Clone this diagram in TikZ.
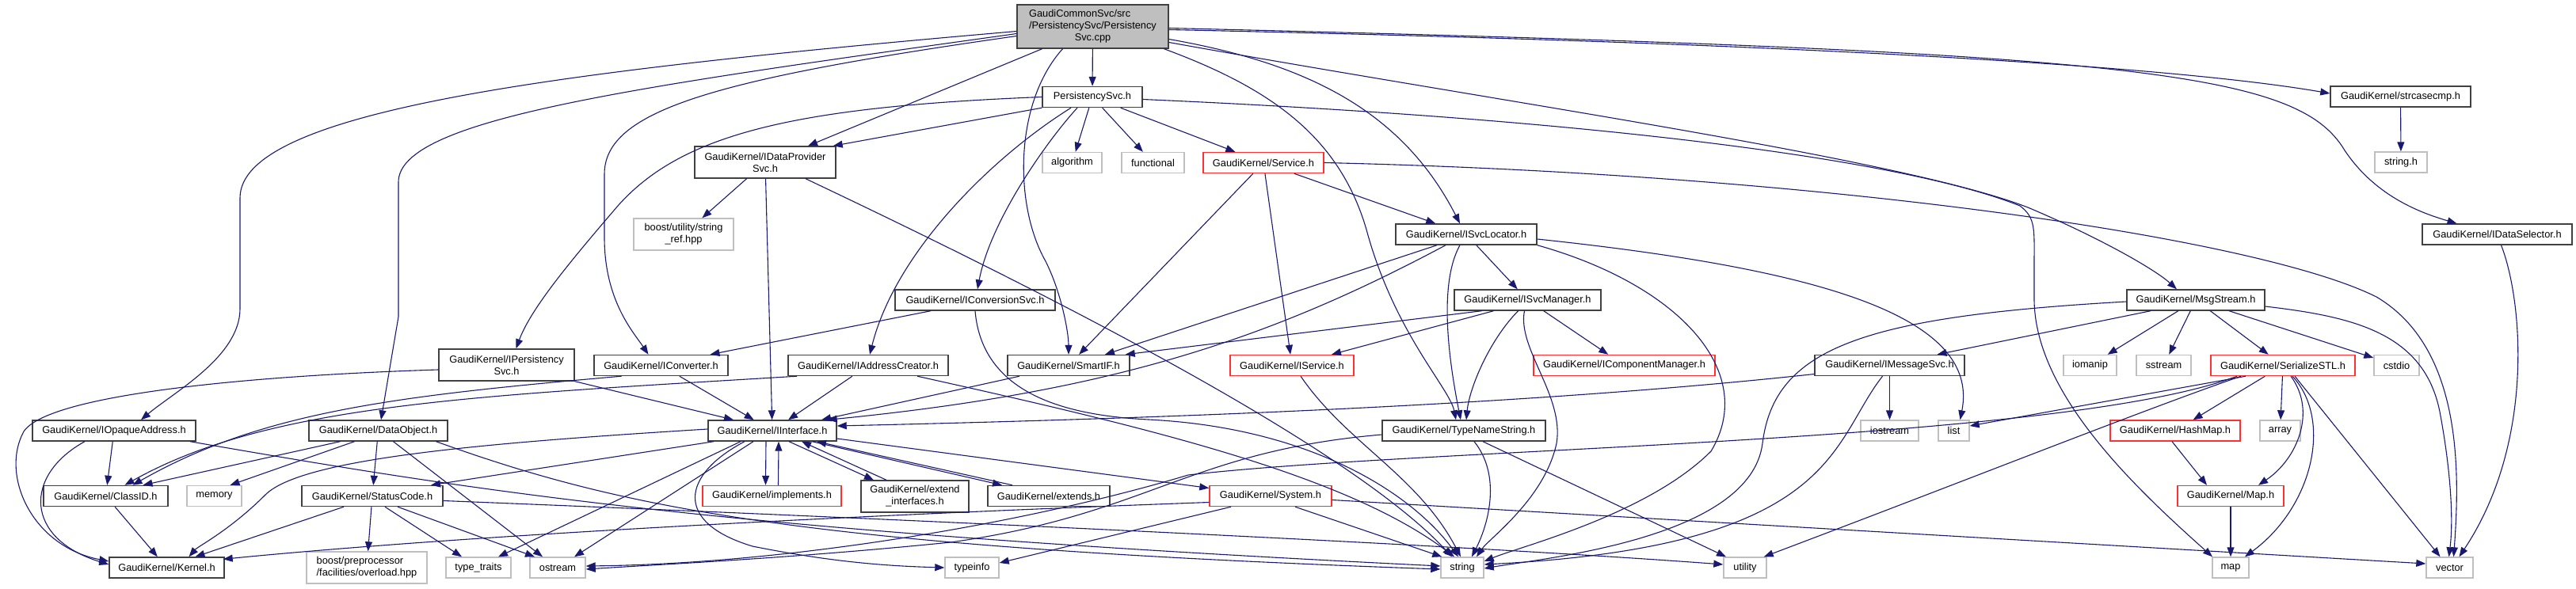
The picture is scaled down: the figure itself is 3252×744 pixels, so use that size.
\documentclass[tikz,border=0pt]{standalone}
\usepackage{fontspec}
\setmainfont{Liberation Sans}
\usetikzlibrary{arrows.meta}
\definecolor{edgeblue}{HTML}{191970}
\definecolor{sysgray}{HTML}{BFBFBF}
\definecolor{truncred}{HTML}{FF3030}
\tikzset{
  file/.style={draw=black!75, line width=1.4pt, fill=white, inner sep=0pt,
    minimum height=26pt, align=center, font=\fontsize{12.8}{15}\selectfont},
  sysfile/.style={file, draw=sysgray},
  truncfile/.style={file, draw=truncred},
  mainfile/.style={file, fill=sysgray},
  incl/.style={->, draw=edgeblue, line width=1.1pt},
}

\begin{document}
\begin{tikzpicture}[x=1pt, y=-1pt, >={Triangle[length=12pt,width=9pt]}]
\useasboundingbox (0,0) rectangle (3252,744);

% files, row by row
\node[mainfile, minimum width=191pt, minimum height=55pt] at (1379.5,33.5) (cpp) {\begin{tabular}{@{}l@{}}GaudiCommonSvc/src\\/PersistencySvc/Persistency\\\multicolumn{1}{@{}c@{}}{Svc.cpp}\end{tabular}};

\node[file, minimum width=126pt] at (1379,122.5) (psvcH) {PersistencySvc.h};
\node[file, minimum width=177pt] at (3030.5,122) (strcasecmp) {GaudiKernel/strcasecmp.h};

\node[file, minimum width=178pt, minimum height=40pt] at (966,205) (idpSvc) {GaudiKernel/IDataProvider\\Svc.h};
\node[sysfile, minimum width=75pt] at (1353.5,205.5) (algo) {algorithm};
\node[sysfile, minimum width=79pt] at (1455.5,205.5) (functional) {functional};
\node[truncfile, minimum width=152pt] at (1595,205.5) (service) {GaudiKernel/Service.h};
\node[sysfile, minimum width=66pt] at (3031,205) (stringH) {string.h};

\node[sysfile, minimum width=126pt, minimum height=40pt] at (863,296) (strRef) {boost/utility/string\\\_ref.hpp};
\node[file, minimum width=178pt] at (1851,296) (isvcLoc) {GaudiKernel/ISvcLocator.h};
\node[file, minimum width=189pt] at (3152.5,296) (idataSel) {GaudiKernel/IDataSelector.h};

\node[file, minimum width=202pt] at (1231,379) (iconvSvc) {GaudiKernel/IConversionSvc.h};
\node[file, minimum width=185pt] at (1928.5,379) (isvcMgr) {GaudiKernel/ISvcManager.h};
\node[file, minimum width=174pt] at (2772,379) (msgStream) {GaudiKernel/MsgStream.h};

\node[file, minimum width=171pt, minimum height=40pt] at (639.5,461) (ipersist) {GaudiKernel/IPersistency\\Svc.h};
\node[file, minimum width=169pt] at (834.5,461.5) (iconverter) {GaudiKernel/IConverter.h};
\node[file, minimum width=202pt] at (1096,461.5) (iaddrCr) {GaudiKernel/IAddressCreator.h};
\node[file, minimum width=154pt] at (1349,461.5) (smartIF) {GaudiKernel/SmartIF.h};
\node[truncfile, minimum width=156pt] at (1631,461.5) (iservice) {GaudiKernel/IService.h};
\node[truncfile, minimum width=229pt] at (2050.5,461.5) (icompMgr) {GaudiKernel/IComponentManager.h};
\node[file, minimum width=189pt] at (2385.5,461.5) (imsgSvc) {GaudiKernel/IMessageSvc.h};
\node[sysfile, minimum width=67pt] at (2638.5,461.5) (iomanip) {iomanip};
\node[sysfile, minimum width=69pt] at (2731.5,461.5) (sstream) {sstream};
\node[truncfile, minimum width=182pt] at (2882,461.5) (serialSTL) {GaudiKernel/SerializeSTL.h};
\node[sysfile, minimum width=57pt] at (3025.5,461.5) (cstdio) {cstdio};

\node[file, minimum width=206pt] at (144,544) (iopaque) {GaudiKernel/IOpaqueAddress.h};
\node[file, minimum width=175pt] at (477.5,544) (dataObj) {GaudiKernel/DataObject.h};
\node[file, minimum width=162pt] at (975,544) (iiface) {GaudiKernel/IInterface.h};
\node[file, minimum width=206pt] at (1848,544) (typeName) {GaudiKernel/TypeNameString.h};
\node[sysfile, minimum width=73pt] at (2385.5,544) (iostream) {iostream};
\node[sysfile, minimum width=39pt] at (2466.5,544) (list) {list};
\node[truncfile, minimum width=164pt] at (2746,544) (hashMap) {GaudiKernel/HashMap.h};
\node[sysfile, minimum width=51pt] at (2878.5,544) (array) {array};

\node[file, minimum width=157pt] at (133.5,626.5) (classID) {GaudiKernel/ClassID.h};
\node[sysfile, minimum width=69pt] at (270.5,626.5) (memory) {memory};
\node[file, minimum width=178pt] at (470,626.5) (statusCode) {GaudiKernel/StatusCode.h};
\node[truncfile, minimum width=175pt] at (974.5,626.5) (implements) {GaudiKernel/implements.h};
\node[file, minimum width=136pt, minimum height=40pt] at (1155,627) (extIntf) {GaudiKernel/extend\\\_interfaces.h};
\node[file, minimum width=154pt] at (1324,626.5) (extends) {GaudiKernel/extends.h};
\node[truncfile, minimum width=154pt] at (1604,626.5) (system) {GaudiKernel/System.h};
\node[truncfile, minimum width=134pt] at (2816,626.5) (mapH) {GaudiKernel/Map.h};

\node[file, minimum width=145pt] at (210.5,717) (kernel) {GaudiKernel/Kernel.h};
\node[sysfile, minimum width=152pt, minimum height=40pt] at (463,717) (boostPP) {\begin{tabular}{@{}l@{}}boost/preprocessor\\/facilities/overload.hpp\end{tabular}};
\node[sysfile, minimum width=82pt] at (604,717) (typeTraits) {type\_traits};
\node[sysfile, minimum width=70pt] at (704,717) (ostream) {ostream};
\node[sysfile, minimum width=68pt] at (1227,717) (typeinfo) {typeinfo};
\node[sysfile, minimum width=54pt] at (1846,717) (string) {string};
\node[sysfile, minimum width=54pt] at (2203,717) (utility) {utility};
\node[sysfile, minimum width=46pt] at (2816,717) (map) {map};
\node[sysfile, minimum width=59pt] at (3092.5,717) (vector) {vector};

% includes of the source file
\draw[incl] (cpp) -- (psvcH);
\draw[incl] ([xshift=-64pt]cpp.south) -- ([xshift=54pt]idpSvc.north);
\draw[incl] ([yshift=-6pt]cpp.west) .. controls (700,90) and (303,140) .. (303,250) -- (303,390) .. controls (303,450) and (220,495) .. ([xshift=34pt]iopaque.north);
\draw[incl] ([yshift=-9pt]cpp.west) .. controls (800,110) and (503,150) .. (503,230) -- (503,400) -- ([xshift=3.5pt]dataObj.north);
\draw[incl] ([yshift=-12pt]cpp.west) .. controls (900,100) and (763,140) .. (763,220) -- (763,300) .. controls (763,380) and (800,420) .. ([xshift=-16pt]iconverter.north);
\draw[incl] ([xshift=-38pt]cpp.south) .. controls (1280,130) and (1280,260) .. (1320,330) .. controls (1340,370) and (1349,420) .. (smartIF.north);
\draw[incl] ([yshift=-4pt]cpp.east) .. controls (2300,55) and (2750,85) .. ([yshift=4pt]strcasecmp.west);
\draw[incl] ([yshift=-2pt]cpp.east) .. controls (2700,65) and (2900,90) .. (2960,190) .. controls (3000,250) and (3060,270) .. ([xshift=-51pt]idataSel.north);
\draw[incl] ([yshift=-16pt]cpp.east) .. controls (1650,80) and (1770,140) .. ([xshift=-8pt]isvcLoc.north);
\draw[incl] ([yshift=-20pt]cpp.east) .. controls (1900,130) and (2400,200) .. (2560,262) .. controls (2650,300) and (2720,340) .. ([xshift=-24pt]msgStream.north);
\draw[incl] ([xshift=90pt]cpp.south) .. controls (1600,110) and (1690,170) .. (1725,290) .. controls (1760,420) and (1830,490) .. ([xshift=-10pt]typeName.north);

% PersistencySvc.h
\draw[incl] (psvcH) -- (algo);
\draw[incl] (psvcH) -- (functional);
\draw[incl] (psvcH) -- (service);
\draw[incl] (psvcH.south west) -- ([xshift=-4pt]idpSvc.north east);
\draw[incl] (psvcH.west) .. controls (1000,135) and (860,170) .. (780,260) .. controls (720,330) and (670,390) .. ([xshift=12pt]ipersist.north);
\draw[incl] ([xshift=-19pt]psvcH.south) .. controls (1320,180) and (1250,280) .. ([xshift=3pt]iconvSvc.north);
\draw[incl] ([xshift=-27pt]psvcH.south) .. controls (1250,200) and (1130,320) .. ([xshift=2pt]iaddrCr.north);
\draw[incl] ([yshift=-3pt]psvcH.east) .. controls (2000,150) and (2400,200) .. (2550,260) .. controls (2570,275) and (2568,290) .. (2568,330) -- (2568,380) .. controls (2570,500) and (2700,620) .. ([xshift=-23pt]map.north);

% IDataProviderSvc.h
\draw[incl] (idpSvc) -- (strRef);
\draw[incl] (idpSvc) -- (iiface);
\draw[incl] ([xshift=51pt]idpSvc.south) .. controls (1300,360) and (1700,560) .. ([xshift=-13pt]string.north);

% Service.h
\draw[incl] (service) -- (isvcLoc);
\draw[incl] (service) -- (smartIF);
\draw[incl] (service) -- (iservice);
\draw[incl] (service.east) .. controls (2300,220) and (2850,300) .. (3000,375) .. controls (3110,440) and (3105,600) .. ([xshift=5pt]vector.north);

% ISvcLocator.h
\draw[incl] (isvcLoc) -- (isvcMgr);
\draw[incl] ([xshift=-8pt]isvcLoc.south) .. controls (1815,360) and (1830,460) .. ([xshift=-4pt]typeName.north);
\draw[incl] ([xshift=-37pt]isvcLoc.south) -- ([xshift=46pt]smartIF.north);
\draw[incl] ([xshift=-26pt]isvcLoc.south) .. controls (1600,430) and (1400,495) .. ([xshift=-12pt]iiface.north east);
\draw[incl] (isvcLoc.south east) .. controls (2120,360) and (2220,470) .. (2160,570) .. controls (2080,650) and (1920,690) .. ([yshift=8pt]string.east);
\draw[incl] ([yshift=-6pt]isvcLoc.east) .. controls (2300,340) and (2500,400) .. ([xshift=8pt]list.north);

% ISvcManager.h
\draw[incl] ([xshift=-43pt]isvcMgr.south) -- ([xshift=50pt]iservice.north);
\draw[incl] ([xshift=-58pt]isvcMgr.south) -- ([xshift=-6pt]smartIF.north east);
\draw[incl] ([xshift=-12pt]isvcMgr.south) .. controls (1880,430) and (1855,490) .. ([xshift=3pt]typeName.north);
\draw[incl] ([xshift=-4pt]isvcMgr.south) .. controls (1915,440) and (1975,500) .. (1965,560) .. controls (1950,630) and (1880,680) .. ([xshift=18pt]string.north);
\draw[incl] (isvcMgr) -- (icompMgr);

% IService.h, TypeNameString.h
\draw[incl] ([xshift=11pt]iservice.south) .. controls (1700,560) and (1790,600) .. ([xshift=-2pt]string.north);
\draw[incl] ([xshift=13pt]typeName.south) .. controls (1895,600) and (1880,660) .. ([xshift=12pt]string.north);
\draw[incl] ([xshift=24pt]typeName.south) -- ([xshift=-24pt]utility.north);
\draw[incl] ([yshift=-5pt]typeName.west) .. controls (1500,570) and (1450,650) .. (1200,685) .. controls (1000,705) and (850,712) .. ([yshift=-2pt]ostream.east);

% IMessageSvc.h
\draw[incl] (imsgSvc) -- (iostream);
\draw[incl] ([yshift=-11pt]imsgSvc.west) .. controls (1900,515) and (1400,530) .. ([yshift=6pt]iiface.east);
\draw[incl] ([xshift=-9pt]imsgSvc.south) .. controls (2310,560) and (2320,690) .. ([yshift=4pt]string.east);

% MsgStream.h
\draw[incl] ([xshift=-57pt]msgStream.south) -- ([xshift=60pt]imsgSvc.north);
\draw[incl] (msgStream) -- (iomanip);
\draw[incl] (msgStream) -- (sstream);
\draw[incl] (msgStream) -- (serialSTL);
\draw[incl] (msgStream) -- (cstdio);
\draw[incl] ([yshift=-8pt]msgStream.east) .. controls (2970,400) and (3060,420) .. (3080,520) .. controls (3095,600) and (3097,660) .. ([xshift=-1pt]vector.north);
\draw[incl] ([yshift=-2pt]msgStream.west) .. controls (2350,400) and (2240,440) .. (2225,560) .. controls (2210,680) and (1950,705) .. ([yshift=-1pt]string.east);

% SerializeSTL.h
\draw[incl] ([xshift=-47pt]serialSTL.south) -- ([yshift=6pt]list.east);
\draw[incl] (serialSTL) -- (hashMap);
\draw[incl] (serialSTL) -- (array);
\draw[incl] ([xshift=10pt]serialSTL.south) .. controls (2925,520) and (2900,580) .. ([xshift=35pt]mapH.north);
\draw[incl] ([xshift=12pt]serialSTL.south) .. controls (2945,530) and (2920,640) .. ([xshift=18pt]map.north);
\draw[incl] ([xshift=15pt]serialSTL.south) -- ([xshift=-12pt]vector.north);
\draw[incl] ([xshift=-58pt]serialSTL.south) .. controls (2600,560) and (1800,565) .. (1500,600) .. controls (1300,660) and (1000,712) .. ([yshift=2pt]ostream.east);
\draw[incl] ([xshift=-53pt]serialSTL.south) .. controls (2700,520) and (2500,600) .. ([xshift=-4pt]utility.north east);

% maps, strcasecmp, IDataSelector
\draw[incl] ([xshift=-4pt]hashMap.south) -- ([xshift=-30pt]mapH.north);
\draw[incl] (mapH) -- (map);
\draw[incl] (strcasecmp) -- (stringH);
\draw[incl] ([xshift=5pt]idataSel.south) .. controls (3185,380) and (3200,560) .. ([xshift=12pt]vector.north);

% System.h
\draw[incl] ([yshift=-5pt]system.east) -- ([yshift=5pt]vector.west);
\draw[incl] ([xshift=31pt]system.south) -- ([xshift=2pt]string.north west);
\draw[incl] ([xshift=-50pt]system.south) -- ([yshift=6pt]typeinfo.east);
\draw[incl] ([yshift=-8pt]system.west) .. controls (1100,650) and (600,675) .. ([xshift=-2pt,yshift=-3pt]kernel.north east);

% IInterface.h
\draw[incl] ([xshift=-8pt]iiface.south) -- ([xshift=-8pt]implements.north);
\draw[incl] ([xshift=8pt]implements.north) -- ([xshift=8pt]iiface.south);
\draw[incl] ([xshift=21pt]iiface.south) -- ([xshift=-52pt]extIntf.north);
\draw[incl] ([xshift=-36pt]extIntf.north) -- ([xshift=37pt]iiface.south);
\draw[incl] ([xshift=50pt]iiface.south) -- ([xshift=-59pt]extends.north);
\draw[incl] ([xshift=-46pt]extends.north) -- ([xshift=56pt]iiface.south);
\draw[incl] ([yshift=-10pt]iiface.east) -- ([yshift=10pt]system.west);
\draw[incl] ([xshift=-35pt]iiface.south) .. controls (860,600) and (850,660) .. (950,690) .. controls (1050,710) and (1120,715) .. (typeinfo.west);
\draw[incl] ([yshift=2pt]iiface.west) .. controls (600,560) and (380,580) .. (335,625) .. controls (290,670) and (250,690) .. ([xshift=28pt]kernel.north);
\draw[incl] ([xshift=-74pt]iiface.south) -- ([xshift=74pt]statusCode.north);
\draw[incl] ([xshift=-40pt]iiface.south) -- ([xshift=25pt]typeTraits.north);
\draw[incl] ([xshift=-24pt]iiface.south) -- ([xshift=21pt]ostream.north);

% DataObject.h, IOpaqueAddress.h
\draw[incl] ([xshift=-48pt]dataObj.south) -- ([xshift=47pt]classID.north);
\draw[incl] ([xshift=-30pt]dataObj.south) -- ([xshift=20pt]memory.north);
\draw[incl] (dataObj) -- (statusCode);
\draw[incl] ([xshift=19pt]dataObj.south) -- ([xshift=-19pt]ostream.north);
\draw[incl] ([xshift=73pt]dataObj.south) .. controls (780,640) and (1000,690) .. ([yshift=-2pt]string.west);
\draw[incl] (iopaque) -- (classID);
\draw[incl] ([xshift=-37pt]iopaque.south) .. controls (30,600) and (30,680) .. ([yshift=4pt]kernel.west);
\draw[incl] ([xshift=96pt]iopaque.south) .. controls (600,620) and (900,670) .. ([yshift=2pt]string.west);

% StatusCode.h, ClassID.h
\draw[incl] ([xshift=-36pt]statusCode.south) -- ([xshift=36pt]kernel.north);
\draw[incl] (statusCode) -- (boostPP);
\draw[incl] ([xshift=16pt]statusCode.south) -- ([xshift=-21pt]typeTraits.north);
\draw[incl] ([xshift=32pt]statusCode.south) -- ([xshift=-29pt]ostream.north);
\draw[incl] ([yshift=-6pt]statusCode.east) .. controls (1000,650) and (1800,685) .. ([yshift=4pt]utility.west);
\draw[incl] (classID) -- (kernel);

% interfaces
\draw[incl] ([yshift=-6pt]ipersist.west) .. controls (300,475) and (60,500) .. (30,545) .. controls (0,600) and (40,690) .. ([yshift=8pt]kernel.west);
\draw[incl] (ipersist.south east) -- ([xshift=-49pt]iiface.north);
\draw[incl] ([xshift=-50pt]iconverter.south) .. controls (500,500) and (330,520) .. ([xshift=34pt]classID.north);
\draw[incl] (iconverter) -- (iiface);
\draw[incl] ([xshift=-90pt]iaddrCr.south) .. controls (600,500) and (340,510) .. ([xshift=24pt]classID.north);
\draw[incl] (iaddrCr) -- (iiface);
\draw[incl] ([xshift=62pt]iaddrCr.south) .. controls (1450,540) and (1700,600) .. ([xshift=-10pt]string.north);
\draw[incl] ([xshift=-56pt]iconvSvc.south) -- ([xshift=62pt]iconverter.north);
\draw[incl] (iconvSvc.south) .. controls (1240,500) and (1350,525) .. (1450,530) .. controls (1650,540) and (1780,620) .. ([xshift=-5pt]string.north);
\draw[incl] (smartIF) -- (iiface);
\end{tikzpicture}
\end{document}
